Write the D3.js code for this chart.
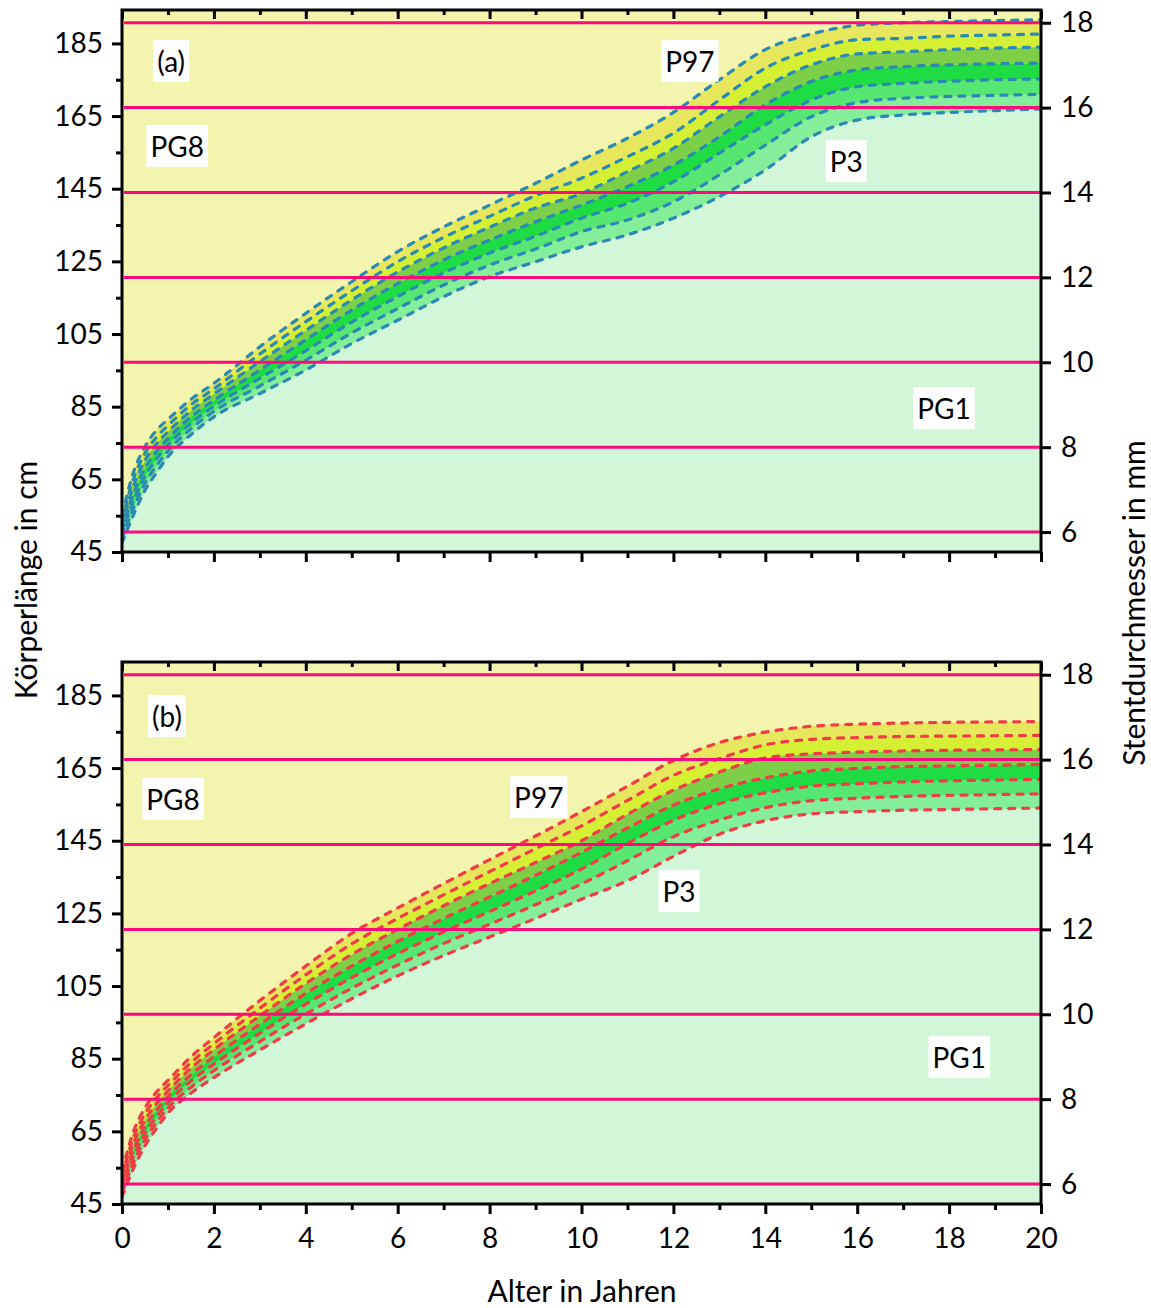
<!DOCTYPE html>
<html>
<head>
<meta charset="utf-8">
<script src="https://cdn.jsdelivr.net/npm/d3@7"></script>
<style>
  html, body { margin: 0; padding: 0; background: #ffffff; }
  svg { display: block; }
  text { font-family: Lato, "Open Sans", sans-serif; fill: #000; }
</style>
</head>
<body>
<svg id="chart" width="1151" height="1308"></svg>
<script>
// Age in years (x values shared by all percentile curves)
const ages = [0, 0.25, 0.5, 0.75, 1, 1.5, 2, 3, 4, 5, 6, 7, 8, 9, 10, 11, 12, 13, 14, 15, 16, 17, 18, 19, 20];

// Percentile names, from lowest to highest curve
const percentiles = ["P3", "P10", "P25", "P50", "P75", "P90", "P97"];

// Body length percentiles in cm, panel (a)
const aP3  = [47.5, 55.2, 62.0, 66.8, 71.2, 77.3, 82.2, 88.6, 95.1, 102.4, 108.8, 115.3, 120.8, 124.9, 129.0, 132.3, 136.9, 142.8, 150.2, 159.3, 163.9, 165.3, 166.0, 166.5, 167.0];
const aP10 = [48.6, 57.1, 63.9, 68.7, 72.8, 78.9, 83.7, 90.7, 97.8, 105.3, 112.0, 118.5, 124.0, 128.4, 133.2, 136.4, 141.4, 148.8, 157.0, 164.8, 168.7, 169.9, 170.4, 170.7, 171.0];
const aP25 = [49.7, 58.9, 65.8, 70.6, 74.4, 80.4, 85.1, 92.8, 100.4, 108.3, 115.3, 121.8, 127.3, 131.9, 136.9, 141.0, 146.9, 154.8, 162.6, 169.4, 173.1, 174.0, 174.6, 175.0, 175.2];
const aP50 = [51.0, 61.0, 68.0, 72.7, 76.2, 82.2, 86.8, 95.1, 103.4, 111.6, 118.9, 125.4, 130.9, 135.9, 140.5, 145.6, 151.5, 159.3, 168.1, 174.5, 177.7, 178.6, 179.1, 179.4, 179.6];
const aP75 = [52.4, 63.2, 70.2, 74.8, 78.1, 83.9, 88.5, 97.4, 106.0, 114.4, 122.1, 128.7, 134.4, 139.7, 143.7, 149.7, 156.1, 164.8, 173.1, 179.1, 182.1, 182.7, 183.3, 183.7, 184.0];
const aP90 = [53.7, 65.1, 72.1, 76.6, 79.8, 85.5, 89.9, 99.5, 108.4, 116.9, 124.9, 131.6, 137.4, 143.1, 147.9, 153.8, 160.3, 169.4, 178.2, 183.2, 186.0, 186.4, 187.0, 187.3, 187.6];
const aP97 = [55.0, 67.0, 74.0, 78.5, 81.5, 87.0, 91.4, 101.5, 110.7, 119.4, 127.7, 134.5, 140.5, 146.5, 152.9, 158.9, 166.0, 175.0, 183.3, 187.6, 190.0, 190.7, 191.0, 191.3, 191.5];

// Body length percentiles in cm, panel (b)
const bP3  = [47.0, 54.8, 61.0, 65.8, 70.0, 75.5, 79.8, 87.4, 94.6, 101.5, 107.8, 113.4, 118.5, 123.6, 128.9, 134.0, 140.7, 146.8, 150.5, 152.4, 153.0, 153.4, 153.6, 153.8, 154.0];
const bP10 = [48.0, 56.4, 62.7, 67.4, 71.4, 77.1, 81.7, 89.7, 97.3, 104.4, 110.8, 116.7, 122.0, 127.4, 133.1, 139.5, 146.1, 150.7, 154.1, 156.0, 156.7, 157.2, 157.5, 157.7, 157.9];
const bP25 = [49.0, 58.0, 64.3, 69.0, 72.9, 78.8, 83.5, 92.0, 100.0, 107.3, 113.9, 119.9, 125.5, 131.2, 137.2, 144.2, 150.6, 155.2, 158.2, 160.0, 160.7, 161.2, 161.5, 161.7, 161.9];
const bP50 = [50.2, 59.8, 66.2, 70.8, 74.5, 80.6, 85.6, 94.5, 103.0, 110.5, 117.3, 123.6, 129.5, 135.5, 141.8, 148.5, 154.8, 159.3, 162.3, 164.2, 164.9, 165.4, 165.6, 165.8, 166.0];
const bP75 = [51.5, 61.7, 68.1, 72.6, 76.1, 82.4, 87.5, 96.8, 105.7, 113.7, 120.6, 127.1, 133.2, 139.0, 145.0, 152.3, 158.9, 163.9, 167.8, 168.9, 169.4, 169.7, 169.9, 170.0, 170.1];
const bP90 = [52.8, 63.3, 69.8, 74.2, 77.6, 83.9, 89.1, 98.9, 108.1, 116.6, 123.6, 130.1, 136.5, 142.8, 149.1, 156.1, 163.0, 167.6, 171.4, 172.9, 173.4, 173.7, 173.8, 173.9, 174.0];
const bP97 = [54.0, 65.0, 71.5, 75.8, 79.0, 85.5, 90.8, 101.0, 110.5, 119.5, 126.5, 133.2, 139.8, 146.3, 153.0, 160.0, 167.1, 172.0, 174.9, 176.5, 177.1, 177.4, 177.6, 177.7, 177.8];

// Axis ticks
const xTicks = [0, 2, 4, 6, 8, 10, 12, 14, 16, 18, 20];
const xMinorTicks = [1, 3, 5, 7, 9, 11, 13, 15, 17, 19];
const cmTicks = [45, 65, 85, 105, 125, 145, 165, 185];
const cmMinorTicks = [55, 75, 95, 115, 135, 155, 175];
const mmTicks = [6, 8, 10, 12, 14, 16, 18];

// Text labels inside each panel: [text, age, cm]
const labelsA = [["(a)", 1.07, 180.2], ["PG8", 1.2, 156.8], ["P97", 12.36, 180.2], ["P3", 15.76, 152.6], ["PG1", 17.89, 84.6]];
const labelsB = [["(b)", 0.98, 179.3], ["PG8", 1.11, 156.5], ["P97", 9.07, 157.0], ["P3", 12.12, 131.2], ["PG1", 18.22, 85.5]];

const panels = [
  { top: 10, bottom: 552, curves: [aP3, aP10, aP25, aP50, aP75, aP90, aP97], dash: "#2a8ab3", labels: labelsA, xLabels: false },
  { top: 662, bottom: 1204, curves: [bP3, bP10, bP25, bP50, bP75, bP90, bP97], dash: "#f03c46", labels: labelsB, xLabels: true }
];

const left = 122, right = 1041;
const bgTop = "#f3f4ae", bgBottom = "#d1f7d8";
// band fills from P3-P10 up to P90-P97
const bandColors = ["#84ee9a", "#55e772", "#1fdc44", "#7ccf46", "#d5ef34", "#e6e75c"];
const pink = "#ff0a7c";
const fontStack = "Lato, 'Open Sans', sans-serif";

const svg = d3.select("#chart");
const x = d3.scaleLinear().domain([0, 20]).range([left, right]);

panels.forEach((p, pi) => {
  const yCm = d3.scaleLinear().domain([45, 194.2]).range([p.bottom, p.top]);
  const yMm = d3.scaleLinear().domain([5.53, 18.30]).range([p.bottom, p.top]);
  const g = svg.append("g");

  const clipId = "clip" + pi;
  svg.append("defs").append("clipPath").attr("id", clipId)
    .append("rect").attr("x", left).attr("y", p.top).attr("width", right - left).attr("height", p.bottom - p.top);
  const plot = g.append("g").attr("clip-path", `url(#${clipId})`);

  const rows = ages.map((a, i) => ({ age: a, v: p.curves.map(c => c[i]) }));

  // backgrounds above the top curve and below the bottom curve
  plot.append("rect").attr("x", left).attr("y", p.top).attr("width", right - left).attr("height", p.bottom - p.top).attr("fill", bgTop);
  plot.append("path").datum(rows)
    .attr("fill", bgBottom)
    .attr("d", d3.area().curve(d3.curveMonotoneX).x(d => x(d.age)).y0(p.bottom + 2).y1(d => yCm(d.v[0])));

  // percentile bands
  for (let k = 0; k < 6; k++) {
    plot.append("path").datum(rows)
      .attr("fill", bandColors[k])
      .attr("d", d3.area().curve(d3.curveMonotoneX).x(d => x(d.age)).y0(d => yCm(d.v[k])).y1(d => yCm(d.v[k + 1])));
  }

  // dashed percentile curves
  for (let k = 0; k < 7; k++) {
    plot.append("path").datum(rows)
      .attr("fill", "none")
      .attr("stroke", p.dash)
      .attr("stroke-width", 3.2)
      .attr("stroke-dasharray", "6,8")
      .attr("stroke-linecap", "round")
      .attr("d", d3.line().curve(d3.curveMonotoneX).x(d => x(d.age)).y(d => yCm(d.v[k])));
  }

  // stent size lines at each mm tick
  plot.selectAll("line.mm").data(mmTicks).enter().append("line")
    .attr("x1", left + 2).attr("x2", right)
    .attr("y1", d => yMm(d)).attr("y2", d => yMm(d))
    .attr("stroke", pink).attr("stroke-width", 3);

  // labels in white boxes
  p.labels.forEach(([t, a, v]) => {
    const lg = g.append("g");
    const txt = lg.append("text")
      .attr("x", x(a)).attr("y", yCm(v))
      .attr("text-anchor", "middle").attr("dominant-baseline", "central")
      .style("font-size", "28px").text(t);
    const bb = txt.node().getBBox();
    lg.insert("rect", "text")
      .attr("x", bb.x - 4).attr("y", yCm(v) - 21)
      .attr("width", bb.width + 8).attr("height", 42)
      .attr("fill", "#ffffff");
  });

  // axes
  const axisStyle = sel => {
    sel.select(".domain").remove();
    sel.selectAll(".tick line").attr("stroke", "#000").attr("stroke-width", 3);
    sel.selectAll(".tick text").style("font-size", "28px").style("font-family", fontStack);
  };

  // bottom
  g.append("g").attr("transform", `translate(0,${p.bottom})`)
    .call(d3.axisBottom(x).tickValues(xTicks).tickSize(10).tickPadding(14).tickFormat(p.xLabels ? d3.format("d") : () => ""))
    .call(axisStyle);
  g.append("g").attr("transform", `translate(0,${p.bottom})`)
    .call(d3.axisBottom(x).tickValues(xMinorTicks).tickSize(6).tickFormat(() => ""))
    .call(axisStyle);
  // top (inward)
  g.append("g").attr("transform", `translate(0,${p.top})`)
    .call(d3.axisBottom(x).tickValues(xTicks).tickSize(9).tickFormat(() => ""))
    .call(axisStyle);
  g.append("g").attr("transform", `translate(0,${p.top})`)
    .call(d3.axisBottom(x).tickValues(xMinorTicks).tickSize(5).tickFormat(() => ""))
    .call(axisStyle);
  // left
  g.append("g").attr("transform", `translate(${left},0)`)
    .call(d3.axisLeft(yCm).tickValues(cmTicks).tickSize(10).tickPadding(9))
    .call(axisStyle);
  g.append("g").attr("transform", `translate(${left},0)`)
    .call(d3.axisLeft(yCm).tickValues(cmMinorTicks).tickSize(6).tickFormat(() => ""))
    .call(axisStyle);
  // right
  g.append("g").attr("transform", `translate(${right},0)`)
    .call(d3.axisRight(yMm).tickValues(mmTicks).tickSize(10).tickPadding(10))
    .call(axisStyle);

  // frame
  g.append("rect").attr("x", left).attr("y", p.top).attr("width", right - left).attr("height", p.bottom - p.top)
    .attr("fill", "none").attr("stroke", "#000").attr("stroke-width", 3);
});

// axis titles
svg.append("text").attr("transform", "translate(25,580) rotate(-90)")
  .attr("text-anchor", "middle").attr("dominant-baseline", "central")
  .style("font-size", "30px").text("Körperlänge in cm");
svg.append("text").attr("transform", "translate(1133,603) rotate(-90)")
  .attr("text-anchor", "middle").attr("dominant-baseline", "central")
  .style("font-size", "30px").text("Stentdurchmesser in mm");
svg.append("text").attr("x", 582).attr("y", 1290)
  .attr("text-anchor", "middle").attr("dominant-baseline", "central")
  .style("font-size", "30px").text("Alter in Jahren");
</script>
</body>
</html>
